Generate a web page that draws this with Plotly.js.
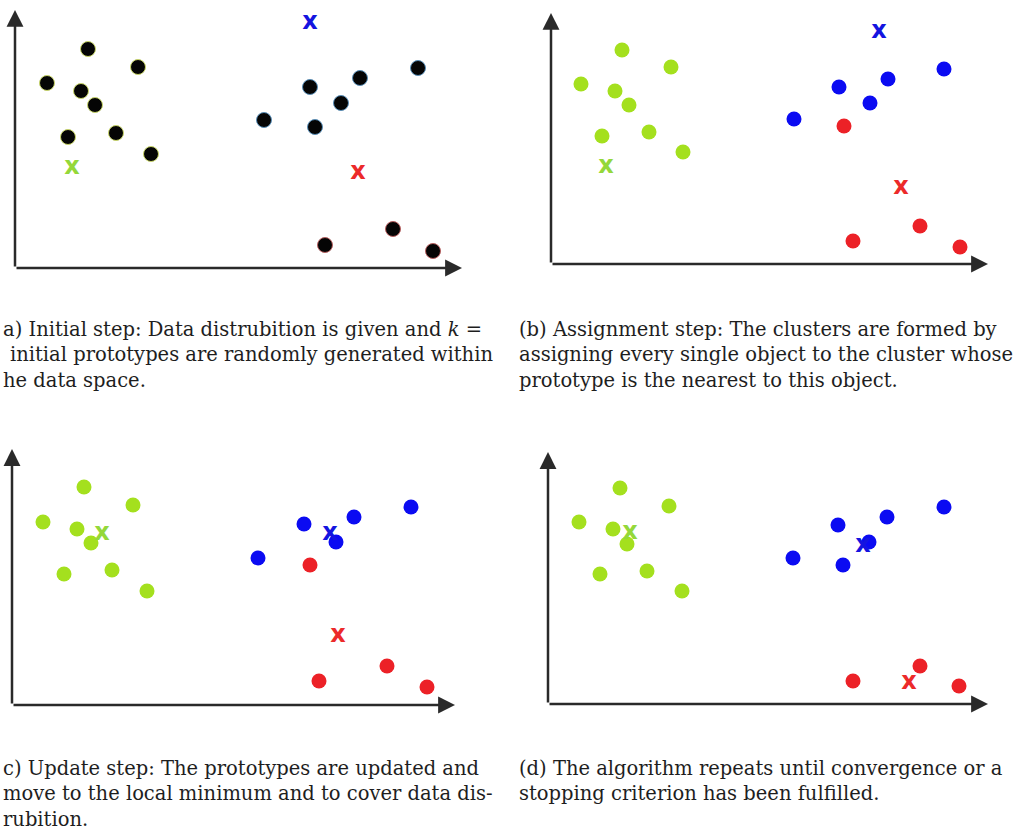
<!DOCTYPE html>
<html>
<head>
<meta charset="utf-8">
<script src="https://cdn.plot.ly/plotly-3.0.1.min.js"></script>
<style>html,body{margin:0;padding:0;background:#fff;}#chart{width:1014px;height:831px;}</style>
</head>
<body>
<div id="chart"></div>
<script>
// ---------- DATA (per panel) ----------
// Panel (a): initial step - all objects unassigned (black), random prototypes
const aLeftX  = [7.3, 12.3, 3.2, 6.6, 8.0, 5.3, 10.1, 13.6];
const aLeftY  = [21.9, 20.1, 18.5, 17.7, 16.3, 13.1, 13.5, 11.4];
const aRightX = [24.9, 29.5, 30.0, 32.6, 34.5, 40.3];
const aRightY = [14.8, 18.1, 14.1, 16.5, 19.0, 20.0];
const aLowX   = [31.0, 37.8, 41.8];
const aLowY   = [2.3, 3.9, 1.7];
const aProtoX = [5.7, 29.5, 34.3];
const aProtoY = [10.0, 24.5, 9.5];

// Panel (b): assignment step
const bGreenX = [7.1, 12.0, 3.0, 6.4, 7.8, 5.1, 9.8, 13.2];
const bGreenY = [21.4, 19.7, 18.0, 17.3, 15.9, 12.8, 13.2, 11.2];
const bBlueX  = [24.3, 28.8, 31.9, 33.7, 39.3];
const bBlueY  = [14.5, 17.7, 16.1, 18.5, 19.5];
const bRedX   = [29.3, 30.2, 36.9, 40.9];
const bRedY   = [13.8, 2.3, 3.8, 1.7];
const bProtoX = [5.5, 32.8, 35.0];
const bProtoY = [9.7, 23.2, 7.6];

// Panel (c): update step
const cGreenX = [7.2, 12.1, 3.1, 6.5, 7.9, 5.2, 10.0, 13.5];
const cGreenY = [21.8, 20.0, 18.3, 17.6, 16.2, 13.1, 13.5, 11.4];
const cBlueX  = [24.6, 29.2, 32.4, 34.2, 39.9];
const cBlueY  = [14.7, 18.1, 16.3, 18.8, 19.8];
const cRedX   = [29.8, 30.7, 37.5, 41.5];
const cRedY   = [14.0, 2.4, 3.9, 1.8];
const cProtoX = [9.0, 31.8, 32.6];
const cProtoY = [17.1, 17.1, 6.9];

// Panel (d): convergence
const dGreenX = [7.2, 12.1, 3.1, 6.5, 7.9, 5.2, 9.9, 13.4];
const dGreenY = [21.6, 19.8, 18.2, 17.5, 16.0, 13.0, 13.3, 11.3];
const dBlueX  = [24.5, 29.0, 32.1, 33.9, 39.6, 29.5];
const dBlueY  = [14.6, 17.9, 16.2, 18.7, 19.7, 13.9];
const dRedX   = [30.5, 37.2, 41.1];
const dRedY   = [2.3, 3.8, 1.8];
const dProtoX = [8.2, 31.5, 36.1];
const dProtoY = [17.1, 15.8, 2.1];

const protoLabels = ['x', 'x', 'x'];

const captionA = ['a) Initial step: Data distrubition is given and <i>k</i> =',
                  'initial prototypes are randomly generated within',
                  'he data space.'];
const captionB = ['(b) Assignment step: The clusters are formed by',
                  'assigning every single object to the cluster whose',
                  'prototype is the nearest to this object.'];
const captionC = ['c) Update step: The prototypes are updated and',
                  'move to the local minimum and to cover data dis-',
                  'rubition.'];
const captionD = ['(d) The algorithm repeats until convergence or a',
                  'stopping criterion has been fulfilled.'];

// ---------- STYLE / LAYOUT ----------
const W = 1014, H = 831;
const GREEN = '#a4e01e', BLUE = '#0b0bf2', RED = '#ec2127', BLACK = '#050505';
const PROTO_COLORS = ['#94d83a', '#1414e0', '#ec2a2a'];
const AXIS_COLOR = '#2a2a2a';

// pixel frames: origin x, origin y, arrow tip x, arrow top y
const frames = [
  {ox: 15,  oy: 268, tip: 462, top: 10},
  {ox: 551, oy: 264, tip: 988, top: 13},
  {ox: 12,  oy: 705, tip: 455, top: 449},
  {ox: 548, oy: 704, tip: 988, top: 452}
];

const traces = [];
function pts(x, y, color, line, ax) {
  traces.push({
    type: 'scatter', mode: 'markers', x: x, y: y,
    xaxis: 'x' + (ax === 1 ? '' : ax), yaxis: 'y' + (ax === 1 ? '' : ax),
    marker: {symbol: 'circle', size: 15, color: color,
             line: {color: line || color, width: line ? 1 : 0}},
    hoverinfo: 'skip', showlegend: false, cliponaxis: false
  });
}
function protos(x, y, ax) {
  traces.push({
    type: 'scatter', mode: 'text', x: x, y: y, text: protoLabels,
    xaxis: 'x' + (ax === 1 ? '' : ax), yaxis: 'y' + (ax === 1 ? '' : ax),
    textposition: 'middle center',
    textfont: {family: 'DejaVu Sans, sans-serif', size: 24, weight: 700, color: PROTO_COLORS},
    hoverinfo: 'skip', showlegend: false, cliponaxis: false
  });
}

// (a)
pts(aLeftX, aLeftY, BLACK, '#c9d66a', 1);
pts(aRightX, aRightY, BLACK, '#5a8fb8', 1);
pts(aLowX, aLowY, BLACK, '#b86060', 1);
protos(aProtoX, aProtoY, 1);
// (b)
pts(bGreenX, bGreenY, GREEN, null, 2);
pts(bBlueX, bBlueY, BLUE, null, 2);
pts(bRedX, bRedY, RED, null, 2);
protos(bProtoX, bProtoY, 2);
// (c)
pts(cGreenX, cGreenY, GREEN, null, 3);
pts(cBlueX, cBlueY, BLUE, null, 3);
pts(cRedX, cRedY, RED, null, 3);
protos(cProtoX, cProtoY, 3);
// (d)
pts(dGreenX, dGreenY, GREEN, null, 4);
pts(dBlueX, dBlueY, BLUE, null, 4);
pts(dRedX, dRedY, RED, null, 4);
protos(dProtoX, dProtoY, 4);

const layout = {
  width: W, height: H,
  margin: {l: 0, r: 0, t: 0, b: 0},
  paper_bgcolor: '#ffffff', plot_bgcolor: 'rgba(0,0,0,0)',
  showlegend: false,
  annotations: []
};

frames.forEach(function (f, i) {
  const n = i + 1, sfx = n === 1 ? '' : String(n);
  const xmax = (f.tip - f.ox) / 10, ymax = (f.oy - f.top) / 10;
  const hidden = {visible: false, fixedrange: true, showgrid: false, zeroline: false};
  layout['xaxis' + sfx] = Object.assign({}, hidden, {
    domain: [f.ox / W, f.tip / W], range: [0, xmax], anchor: 'y' + sfx});
  layout['yaxis' + sfx] = Object.assign({}, hidden, {
    domain: [(H - f.oy) / H, (H - f.top) / H], range: [0, ymax], anchor: 'x' + sfx});
  const arrowBase = {xref: 'x' + sfx, yref: 'y' + sfx, axref: 'x' + sfx, ayref: 'y' + sfx,
    text: '', showarrow: true, arrowhead: 2, arrowsize: 1.35, arrowwidth: 2.5,
    arrowcolor: AXIS_COLOR, standoff: 0, startstandoff: 0};
  layout.annotations.push(Object.assign({}, arrowBase, {x: xmax, y: 0, ax: 0, ay: 0}));
  layout.annotations.push(Object.assign({}, arrowBase, {x: 0, y: ymax, ax: 0, ay: 0}));
});

// captions
const capFont = {family: 'DejaVu Serif, serif', size: 19.5, color: '#1e1e1e'};
function caption(lines, xpx, ypx0, indent) {
  lines.forEach(function (t, k) {
    const dx = (indent && indent[k]) || 0;
    layout.annotations.push({
      xref: 'paper', yref: 'paper', x: (xpx + dx) / W, y: 1 - (ypx0 + k * 25.5) / H,
      xanchor: 'left', yanchor: 'middle', showarrow: false, align: 'left',
      text: t, font: capFont
    });
  });
}
caption(captionA, 1, 329, [0, 7, 0]);
caption(captionB, 517, 329);
caption(captionC, 1, 768);
caption(captionD, 517, 768);

Plotly.newPlot('chart', traces, layout, {displayModeBar: false, staticPlot: true});
</script>
</body>
</html>
